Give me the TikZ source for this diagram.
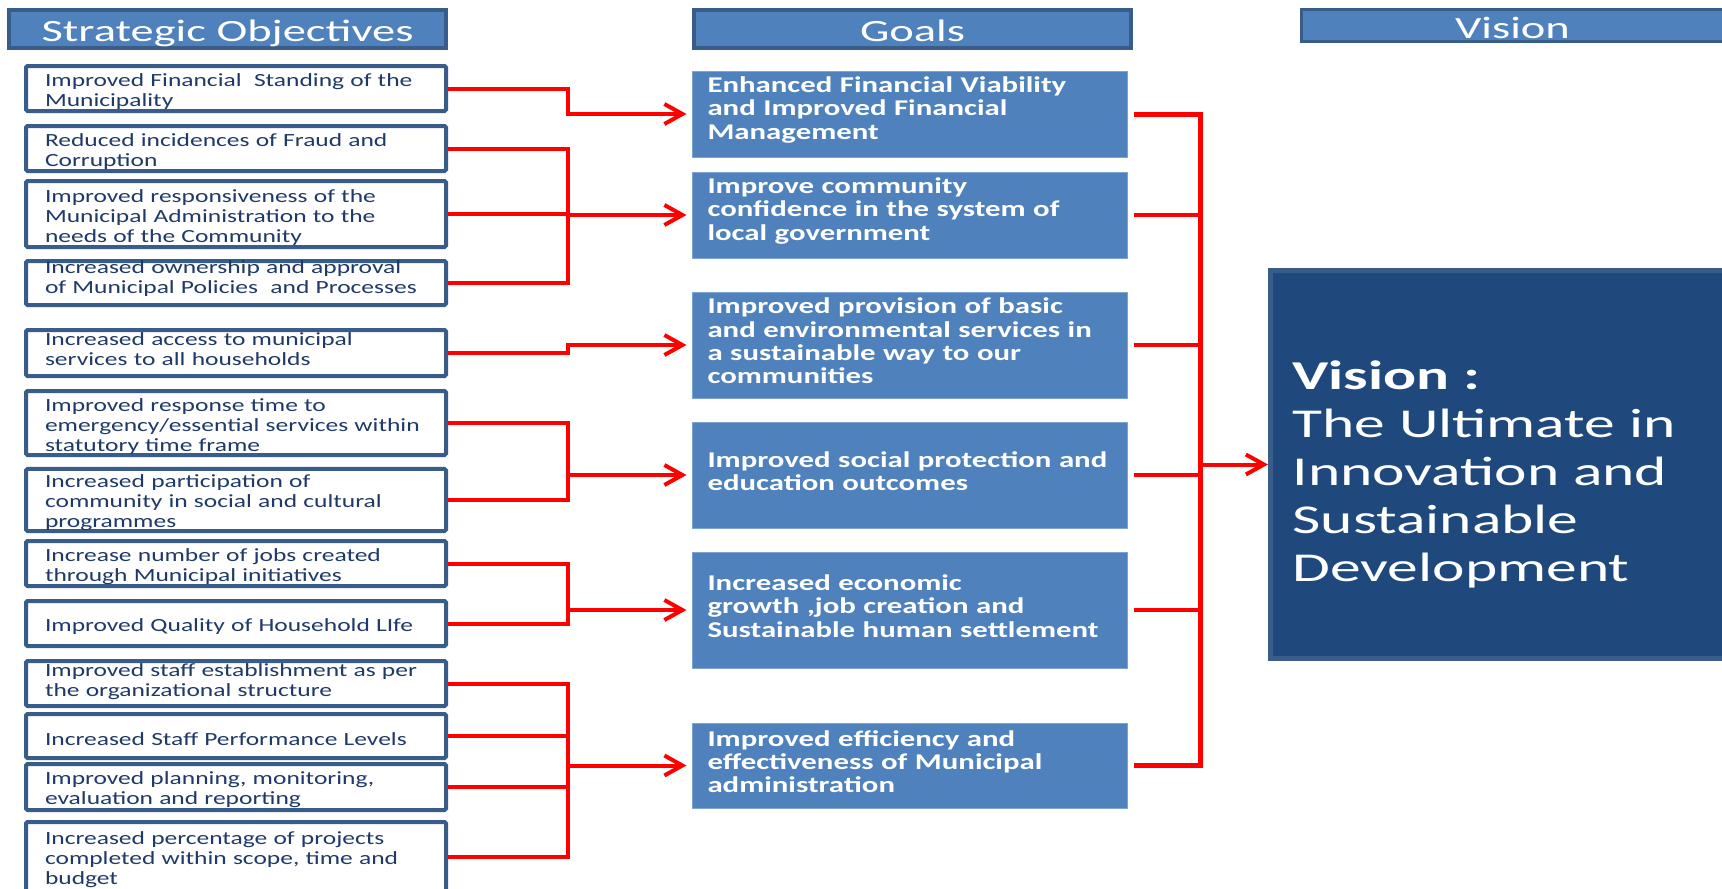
\documentclass[tikz,border=0pt]{standalone}
\usepackage{fontspec}
\usepackage{tikz}
\usetikzlibrary{arrows.meta}
\newfontfamily\sofont[FakeStretch=1.37]{Carlito}
\newfontfamily\goalfont[FakeStretch=1.37]{Carlito}
\newfontfamily\hdrfont[FakeStretch=1.5]{Carlito}
\hyphenpenalty=10000
\exhyphenpenalty=10000
\definecolor{hdrblue}{HTML}{4F81BD}
\definecolor{edgeblue}{HTML}{385D8A}
\definecolor{navytext}{HTML}{1F3A68}
\definecolor{visionblue}{HTML}{1F497D}
\definecolor{goaledge}{HTML}{7EA2D1}
\definecolor{linkred}{HTML}{FF0000}
\tikzset{
	hdr/.style={draw=edgeblue, fill=hdrblue, line width=4pt, text=white, inner sep=0pt, text height=25pt, text depth=0pt, font=\hdrfont\fontsize{31}{36}\selectfont},
	objbox/.style={draw=edgeblue, fill=white, line width=4pt, rounded corners=1.5pt, text=navytext, minimum width=420pt, text width=400pt, inner xsep=10pt, inner ysep=0pt, align=left, font=\sofont\fontsize{18.6}{20}\selectfont, execute at begin node={\leftskip=9pt\rule{0pt}{#1}}},
	objbox/.default=19pt,
	objup/.style={execute at end node={\par\vspace*{#1}}},
	goalbox/.style={draw=goaledge, fill=hdrblue, line width=1pt, text=white, minimum width=435pt, text width=410pt, inner xsep=12.5pt, inner ysep=0pt, align=left, font=\goalfont\bfseries\fontsize{22.5}{23.3}\selectfont, execute at begin node={\leftskip=3pt}, execute at end node={\par\vspace*{8pt}}},
	redline/.style={draw=linkred, line width=4pt},
	redarrow/.style={redline, -{Straight Barb[length=18pt,width=20pt]}},
}

\begin{document}
\begin{tikzpicture}[x=1pt, y=-1pt]
			%%%%% START %%%%%
			\fill[white] (0, 0) rectangle (1722, 889);
			\useasboundingbox (0, 0) rectangle (1722, 889);
			
			\node[hdr, minimum width=437pt, minimum height=38pt] (sohdr) at (227.5, 29) {Strategic Objectives};
			\node[hdr, minimum width=437pt, minimum height=38pt] (goalhdr) at (912.5, 29) {Goals};
			\node[hdr, line width=3pt, minimum width=422pt, minimum height=32pt] (vishdr) at (1512.5, 25.5) {Vision};
			
			\node[objbox, minimum height=45pt] (o1) at (236, 88.5) {Improved Financial \ Standing of the\\Municipality};
			\node[objbox, minimum height=45pt] (o2) at (236, 148.5) {Reduced incidences of Fraud and\\Corruption};
			\node[objbox, minimum height=66pt] (o3) at (236, 214) {Improved responsiveness of the\\Municipal Administration to the\\needs of the Community};
			\node[objbox=0pt, objup=8pt, minimum height=44pt] (o4) at (236, 283) {Increased ownership and approval\\of Municipal Policies \ and Processes};
			\node[objbox=0pt, objup=8pt, minimum height=46pt] (o5) at (236, 353) {Increased access to municipal\\services to all households};
			\node[objbox, minimum height=64pt] (o6) at (236, 423) {Improved response time to\\emergency/essential services within\\statutory time frame};
			\node[objbox, minimum height=58pt] (o7) at (236, 500) {Increased participation of\\community in social and cultural\\programmes};
			\node[objbox, minimum height=45pt] (o8) at (236, 563.5) {Increase number of jobs created\\through Municipal initiatives};
			\node[objbox, minimum height=45pt] (o9) at (236, 623.5) {Improved Quality of Household LIfe};
			\node[objbox=0pt, objup=3pt, minimum height=45pt] (o10) at (236, 683.5) {Improved staff establishment as per\\the organizational structure};
			\node[objbox, minimum height=44pt] (o11) at (236, 736) {Increased Staff Performance Levels};
			\node[objbox, minimum height=46pt] (o12) at (236, 787) {Improved planning, monitoring,\\evaluation and reporting};
			\node[objbox, minimum height=70pt] (o13) at (236, 857) {Increased percentage of projects\\completed within scope, time and\\budget};
			
			\node[goalbox, minimum height=86pt] (g1) at (909.5, 114) {Enhanced Financial Viability\\and Improved Financial\\Management};
			\node[goalbox, minimum height=86pt] (g2) at (909.5, 215) {Improve community\\confidence in the system of\\local government};
			\node[goalbox, minimum height=106pt] (g3) at (909.5, 345) {Improved provision of basic\\and environmental services in\\a sustainable way to our\\communities};
			\node[goalbox, minimum height=106pt] (g4) at (909.5, 475) {Improved social protection and\\education outcomes};
			\node[goalbox, minimum height=116pt] (g5) at (909.5, 610) {Increased economic\\growth ,job creation and\\Sustainable human settlement};
			\node[goalbox, minimum height=85pt] (g6) at (909.5, 765.5) {Improved efficiency and\\effectiveness of Municipal\\administration};
			
			\node[draw=edgeblue, fill=visionblue, line width=5pt, text=white, minimum width=490pt, minimum height=388pt, text width=446pt, inner xsep=22pt, align=left, font=\hdrfont\fontsize{41}{48}\selectfont] (vision) at (1515.5, 464.5) {\rule{0pt}{48pt}{\bfseries Vision :}\\The Ultimate in\\Innovation and\\Sustainable\\Development};
			
			\coordinate (lbus) at (568, 0);
			\coordinate (rbus) at (1200, 0);
			
			% objectives to goals
			\draw[redarrow, shorten >=5pt] (o1.east) -- (o1.east -| lbus) |- (g1.west);
			\draw[redline] (o2.east) -| (o4.east -| lbus) -- (o4.east);
			\draw[redline] (o3.east) -- (o3.east -| lbus);
			\draw[redarrow, shorten >=5pt] (g2.west -| lbus) -- (g2.west);
			\draw[redarrow, shorten >=5pt] (o5.east) -- (o5.east -| lbus) |- (g3.west);
			\draw[redline] (o6.east) -| (o7.east -| lbus) -- (o7.east);
			\draw[redarrow, shorten >=5pt] (g4.west -| lbus) -- (g4.west);
			\draw[redline] (o8.east) -| (o9.east -| lbus) -- (o9.east);
			\draw[redarrow, shorten >=5pt] (g5.west -| lbus) -- (g5.west);
			\draw[redline] (o10.east) -| (o13.east -| lbus) -- (o13.east);
			\draw[redline] (o11.east) -- (o11.east -| lbus);
			\draw[redline] (o12.east) -- (o12.east -| lbus);
			\draw[redarrow, shorten >=5pt] (g6.west -| lbus) -- (g6.west);
			
			% goals to vision
			\draw[redline, line width=5pt, shorten <=6pt, shorten >=6pt] (g1.east) -| (g6.east -| rbus) -- (g6.east);
			\foreach \g in {g2,g3,g4,g5}
				\draw[redline, shorten <=6pt] (\g.east) -- (\g.east -| rbus);
			\draw[redarrow] (vision.west -| rbus) -- (vision.west);
			
			%%%%% END %%%%%
\end{tikzpicture}
\end{document}
